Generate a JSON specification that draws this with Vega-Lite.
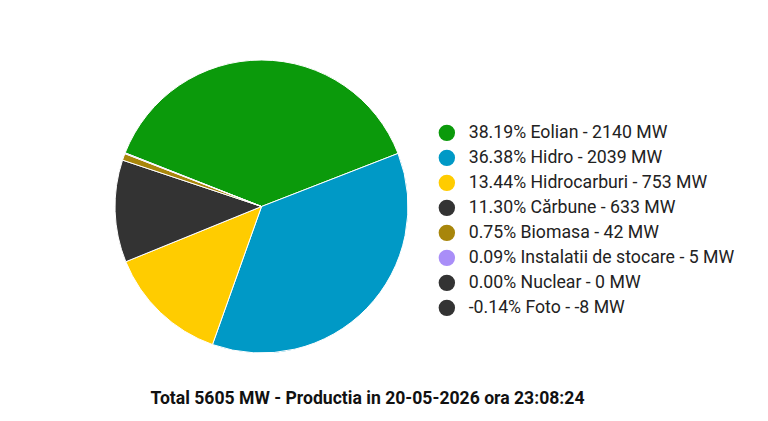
{
  "$schema": "https://vega.github.io/schema/vega-lite/v6.json",
  "autosize": "none",
  "width": 293,
  "height": 293,
  "padding": {"left": 115, "top": 60, "right": 360, "bottom": 68},
  "background": "white",
  "config": {"view": {"stroke": null}, "font": "Roboto"},
  "title": {
    "text": "Total 5605 MW - Productia in 20-05-2026 ora 23:08:24",
    "orient": "bottom",
    "anchor": "middle",
    "dx": 106,
    "offset": 35,
    "font": "Roboto",
    "fontSize": 17.6,
    "fontWeight": "bold",
    "color": "#111111"
  },
  "data": {
    "values": [
      {"rank": 1, "source": "Eolian", "mw": 2140, "label": "38.19% Eolian - 2140 MW"},
      {"rank": 2, "source": "Hidro", "mw": 2039, "label": "36.38% Hidro - 2039 MW"},
      {"rank": 3, "source": "Hidrocarburi", "mw": 753, "label": "13.44% Hidrocarburi - 753 MW"},
      {"rank": 4, "source": "Cărbune", "mw": 633, "label": "11.30% Cărbune - 633 MW"},
      {"rank": 5, "source": "Biomasa", "mw": 42, "label": "0.75% Biomasa - 42 MW"},
      {"rank": 6, "source": "Instalatii de stocare", "mw": 5, "label": "0.09% Instalatii de stocare - 5 MW"},
      {"rank": 7, "source": "Nuclear", "mw": 0, "label": "0.00% Nuclear - 0 MW"},
      {"rank": 8, "source": "Foto", "mw": -8, "label": "-0.14% Foto - -8 MW"}
    ]
  },
  "transform": [{"filter": "datum.mw > 0"}],
  "mark": {"type": "arc", "stroke": "white", "strokeWidth": 1},
  "encoding": {
    "theta": {
      "field": "mw",
      "type": "quantitative",
      "stack": true,
      "scale": {"range": [-1.196, 5.0872]}
    },
    "order": {"field": "rank", "type": "quantitative", "sort": "ascending"},
    "color": {
      "field": "label",
      "type": "nominal",
      "scale": {
        "domain": [
          "38.19% Eolian - 2140 MW",
          "36.38% Hidro - 2039 MW",
          "13.44% Hidrocarburi - 753 MW",
          "11.30% Cărbune - 633 MW",
          "0.75% Biomasa - 42 MW",
          "0.09% Instalatii de stocare - 5 MW",
          "0.00% Nuclear - 0 MW",
          "-0.14% Foto - -8 MW"
        ],
        "range": ["#0b9a0b", "#0099c6", "#ffcc00", "#333333", "#a8860b", "#a98ef8", "#333333", "#333333"]
      },
      "legend": {
        "title": null,
        "orient": "none",
        "legendX": 323,
        "legendY": 64,
        "symbolType": "circle",
        "symbolSize": 270,
        "symbolStrokeWidth": 0,
        "labelFont": "Roboto",
        "labelFontSize": 17.7,
        "labelColor": "#222222",
        "labelOffset": 13,
        "labelLimit": 400,
        "rowPadding": 6
      }
    }
  }
}
